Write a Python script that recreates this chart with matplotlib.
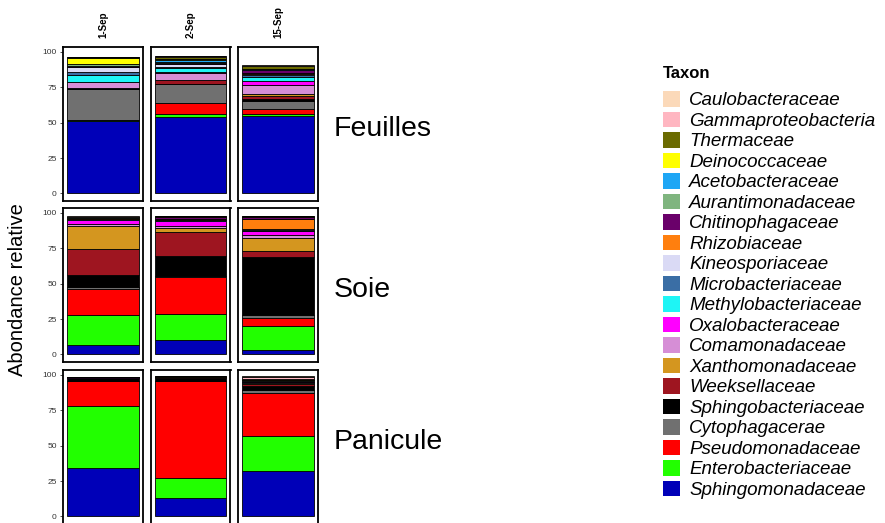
import matplotlib
matplotlib.use("Agg")
import matplotlib.pyplot as plt
from matplotlib.patches import Patch
import numpy as np

plt.rcParams['font.family'] = ['Liberation Sans', 'DejaVu Sans']

dates = ["1-Sep", "2-Sep", "15-Sep"]
tissues = ["Feuilles", "Soie", "Panicule"]

# taxons du bas vers le haut de la pile
taxa = ["Sphingomonadaceae", "Enterobacteriaceae", "Pseudomonadaceae", "Cytophagacerae",
        "Sphingobacteriaceae", "Weeksellaceae", "Xanthomonadaceae", "Comamonadaceae",
        "Oxalobacteraceae", "Methylobacteriaceae", "Microbacteriaceae", "Kineosporiaceae",
        "Rhizobiaceae", "Chitinophagaceae", "Aurantimonadaceae", "Acetobacteraceae",
        "Deinococcaceae", "Thermaceae", "Gammaproteobacteria", "Caulobacteraceae"]
colors = ["#0000B8", "#22FF00", "#FF0000", "#707070",
          "#000000", "#9E1520", "#D4961F", "#D68ED6",
          "#FF00FF", "#1EF5F5", "#3A6EA5", "#DADAF5",
          "#FF7F0E", "#6A006A", "#7FB57F", "#1EA6F5",
          "#FFFF00", "#6B6B00", "#FFB6C1", "#FBD9B9"]

# abondances (%) : une ligne par taxon, colonnes = dates
feuilles = [
    [51.5, 54.3, 55.0],
    [0.3, 2.0, 1.2],
    [0.2, 7.3, 3.3],
    [22.0, 13.5, 6.0],
    [0.3, 0.5, 1.2],
    [0.3, 2.5, 2.2],
    [0.2, 0.3, 1.6],
    [3.7, 5.0, 6.5],
    [0.3, 0.3, 2.3],
    [5.2, 3.0, 3.0],
    [2.0, 0.8, 1.5],
    [3.3, 2.0, 0.8],
    [0.3, 0.3, 0.2],
    [0.2, 0.5, 2.5],
    [1.5, 0.3, 0.2],
    [0.2, 2.0, 0.3],
    [4.5, 0.3, 0.2],
    [0.3, 1.8, 2.3],
    [0.1, 0.1, 0.1],
    [0.1, 0.1, 0.1],
]
soie = [
    [6.8, 9.9, 3.3],
    [20.8, 18.9, 16.7],
    [18.4, 25.9, 5.7],
    [1.4, 0.7, 1.9],
    [9.0, 14.2, 41.3],
    [18.4, 17.0, 4.0],
    [15.8, 3.0, 9.4],
    [1.5, 1.5, 2.4],
    [3.0, 3.5, 2.6],
    [0.3, 0.2, 0.3],
    [0.2, 0.2, 0.3],
    [0.3, 0.3, 0.8],
    [0.2, 0.2, 7.3],
    [0.6, 1.3, 1.0],
    [0.1, 0.1, 0.1],
    [0.1, 0.1, 0.1],
    [0.1, 0.1, 0.1],
    [0.3, 0.5, 0.3],
    [0.1, 0.1, 0.1],
    [0.1, 0.1, 0.1],
]
panicule = [
    [34.0, 12.8, 32.2],
    [44.3, 14.2, 24.8],
    [17.2, 68.5, 30.2],
    [0.3, 0.3, 1.9],
    [1.8, 2.0, 3.0],
    [0.5, 0.5, 1.8],
    [0.05, 0.05, 0.2],
    [0.05, 0.05, 0.2],
    [0.05, 0.05, 0.1],
    [0.05, 0.05, 0.1],
    [0.05, 0.05, 0.1],
    [0.05, 0.05, 0.1],
    [0.05, 0.05, 0.1],
    [0.1, 0.1, 1.2],
    [0.05, 0.05, 0.1],
    [0.05, 0.05, 0.1],
    [0.05, 0.05, 0.1],
    [0.1, 0.1, 0.8],
    [0.05, 0.05, 1.5],
    [0.05, 0.05, 0.4],
]
data = [np.array(feuilles), np.array(soie), np.array(panicule)]

W, H = 885, 523
fig = plt.figure(figsize=(W / 100, H / 100), dpi=100)

col_x = [63, 150.5, 238]
row_top = [47, 208, 370]
pw, ph = 80, 154
label_y = [0.47, 0.468, 0.532]

for r in range(3):
    for c in range(3):
        ax = fig.add_axes([col_x[c] / W, 1 - (row_top[r] + ph) / H, pw / W, ph / H])
        vals = data[r][:, c]
        bottom = 0
        for k in range(len(taxa)):
            ax.bar(0, vals[k], bottom=bottom, width=1.0, color=colors[k],
                   edgecolor='black', linewidth=0.6)
            bottom += vals[k]
        ax.set_xlim(-0.56, 0.56)
        ax.set_ylim(-5.3, 103.5)
        ax.set_xticks([])
        ax.set_yticks([0, 25, 50, 75, 100])
        for s in ax.spines.values():
            s.set_linewidth(1.3)
            s.set_color('black')
        if c == 0:
            ax.tick_params(axis='y', labelsize=6, length=2.5, width=0.6,
                           colors='#333333', pad=2)
        else:
            ax.tick_params(axis='y', length=0, labelleft=False)
        if r == 0:
            ax.text(0.5, 1.06, dates[c], transform=ax.transAxes, rotation=90,
                    ha='center', va='bottom', fontsize=7, fontweight='bold')
        if c == 2:
            ax.text(1.19, label_y[r], tissues[r], transform=ax.transAxes,
                    ha='left', va='center', fontsize=20.5)

fig.text(18 / W, 1 - 290 / H, "Abondance relative", rotation=90,
         ha='center', va='center', fontsize=14.5)

fig.text(663 / W, 1 - 73 / H, "Taxon", ha='left', va='center',
         fontsize=12, fontweight='bold')
handles = [Patch(facecolor=colors[k], edgecolor='none') for k in range(len(taxa))][::-1]
labels = taxa[::-1]
leg = fig.legend(handles, labels, loc='upper left', bbox_to_anchor=(663 / W, 1 - 91 / H),
                 frameon=False, prop={'size': 13.5, 'style': 'italic'},
                 handlelength=0.9, handleheight=0.9, handletextpad=0.5,
                 labelspacing=0.12, borderpad=0, borderaxespad=0)

fig.savefig("out.png", dpi=100)
